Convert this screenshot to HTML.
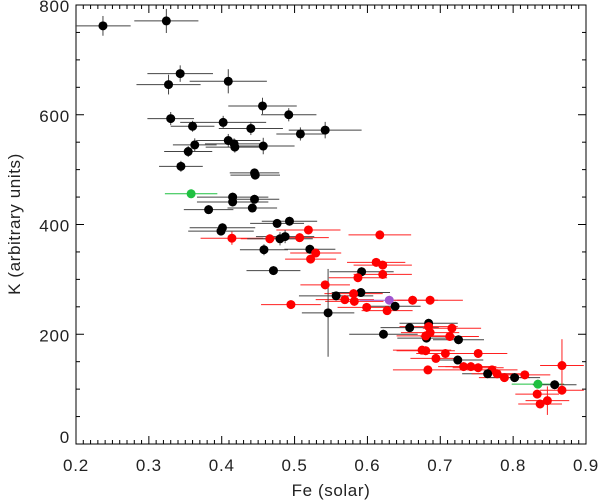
<!DOCTYPE html>
<html><head><meta charset="utf-8"><style>
html,body{margin:0;padding:0;background:#fff;}
svg{display:block;font-family:"Liberation Sans",sans-serif;}
</style></head><body>
<svg id="chart" width="600" height="502" viewBox="0 0 600 502">
<rect x="76" y="5" width="510" height="439" fill="none" stroke="#000" stroke-width="1"/>
<g id="ticks"></g>
<g id="labels" font-size="17" letter-spacing="0.8" fill="#222"></g>
<g id="marks"></g>
<text x="331" y="496" text-anchor="middle" font-size="17" letter-spacing="0.6" fill="#222">Fe (solar)</text>
<text transform="translate(20,224) rotate(-90)" text-anchor="middle" font-size="17" letter-spacing="0.6" fill="#222">K (arbitrary units)</text>
</svg>
<script>
const xTicks=[0.2,0.3,0.4,0.5,0.6,0.7,0.8,0.9];
const xTickLabels=["0.2","0.3","0.4","0.5","0.6","0.7","0.8","0.9"];
const yTicks=[0,200,400,600,800];
const yTickLabels=["0","200","400","600","800"];
const feVals=[0.237,0.324,0.343,0.327,0.409,0.456,0.492,0.330,0.360,0.402,0.440,0.508,0.542,0.363,0.354,0.409,0.417,0.418,0.457,0.344,0.445,0.446,0.358,0.415,0.415,0.445,0.382,0.442,0.476,0.493,0.401,0.399,0.519,0.414,0.466,0.507,0.480,0.487,0.458,0.471,0.495,
0.617,0.521,0.529,0.522,0.612,0.621,0.592,0.621,0.587,0.542,0.557,0.591,0.581,0.569,0.582,0.630,0.638,0.662,0.686,0.599,0.627,0.546,0.658,0.684,0.684,0.716,0.622,0.681,0.686,0.680,0.713,0.725,0.675,0.680,0.707,0.752,0.694,0.724,0.732,0.742,0.752,0.683,0.771,0.765,0.778,0.788,0.802,0.816,0.834,0.857,0.867,0.867,0.833,0.847,0.837];
const kVals=[762,771,675,655,661,616,600,593,579,586,575,565,572,545,533,553,547,541,543,506,494,490,456,450,441,446,427,430,402,406,394,388,390,375,374,376,374,378,354,316,254,
381,355,348,337,331,326,314,309,303,290,270,276,274,263,260,262,251,262,262,249,243,239,212,220,214,211,200,193,203,197,196,190,171,170,165,165,156,153,141,141,139,135,135,128,128,121,121,126,109,108,143,98,91,79,73];
const feErr=[0.038,0.044,0.045,0.044,0.053,0.047,0.038,0.032,0.030,0.059,0.044,0.033,0.050,0.030,0.033,0.044,0.040,0.040,0.043,0.030,0.034,0.034,0.036,0.049,0.049,0.034,0.034,0.034,0.037,0.038,0.045,0.045,0.044,0.043,0.040,0.040,0.045,0.040,0.033,0.037,0.041,
0.043,0.035,0.035,0.035,0.040,0.040,0.044,0.040,0.040,0.034,0.051,0.040,0.040,0.040,0.040,0.041,0.035,0.035,0.045,0.040,0.035,0.036,0.040,0.040,0.040,0.040,0.047,0.040,0.040,0.040,0.040,0.035,0.040,0.040,0.040,0.040,0.035,0.035,0.035,0.035,0.035,0.048,0.035,0.035,0.035,0.035,0.035,0.035,0.036,0.030,0.030,0.030,0.030,0.030,0.030];
const kErr=[18,22,15,18,22,15,12,12,10,12,12,12,15,12,10,12,10,10,15,10,8,8,8,8,8,8,8,8,8,8,8,8,8,12,8,8,12,12,10,8,8,
8,8,8,8,8,8,8,8,8,8,8,8,8,8,8,8,8,8,8,8,8,80,8,8,8,8,8,8,8,8,8,8,8,8,8,8,8,8,8,8,8,8,8,8,8,8,8,8,8,8,48,8,8,26,8];
const groups=[
'k','k','k','k','k','k','k','k','k','k','k','k','k','k','k','k','k','k','k','k','k','k','g','k','k','k','k','k','k','k','k','k',
'r','r','r','r','k','k','k','k','r',
'r','k','r','r','r','r','k','r','r','r','k','k','r','r','r','p','k','r','r','r','r','k','k','k','r','r','k','k','r','r','r','k',
'r','r','r','r','r','k','r','r','r','r','r','k','r','r','k','r','g','k','r','r','r','r','r'];
const L=76,R=586,T=5,B=444;
const x=v=>L+(v-0.2)/0.7*(R-L);
const y=v=>B-v/800*(B-T);
const NS="http://www.w3.org/2000/svg";
function mk(tag,attrs,parent){const e=document.createElementNS(NS,tag);for(const k in attrs)e.setAttribute(k,attrs[k]);parent.appendChild(e);return e;}
const tg=document.getElementById('ticks');
for(let i=0;i<=70;i++){const v=0.2+i*0.01;const len=(i%10===0)?8:4;const px=x(v);
 const a=mk('line',{x1:px,x2:px,y1:B,y2:B-len,stroke:'#000','stroke-width':1},tg);
 
 
 const b=mk('line',{x1:px,x2:px,y1:T,y2:T+len,stroke:'#000','stroke-width':1},tg);
 
 }
for(let i=0;i<=16;i++){const v=i*50;const len=(i%4===0)?8:4;const py=y(v);
 const a=mk('line',{x1:L,x2:L+len,y1:py,y2:py,stroke:'#000','stroke-width':1},tg);
 
 
 const b=mk('line',{x1:R,x2:R-len,y1:py,y2:py,stroke:'#000','stroke-width':1},tg);
 
 }
const lg=document.getElementById('labels');
xTicks.forEach((v,i)=>{const t=mk('text',{x:x(v),y:471,'text-anchor':'middle'},lg);t.textContent=xTickLabels[i];
 
 });
yTicks.forEach((v,i)=>{const off=(v===0)?-1:7;const t=mk('text',{x:70,y:y(v)+off,'text-anchor':'end'},lg);t.textContent=yTickLabels[i];
 
 });
const col={k:'#000',r:'#ff0000',g:'#1fc040',p:'#a055d0'};
const ecol={k:'#444',r:'#ff2020',g:'#1fc040',p:'#a055d0'};
const mg=document.getElementById('marks');
for(let i=0;i<feVals.length;i++){const g=groups[i]||'k';const cx=x(feVals[i]),cy=y(kVals[i]);
 const h=mk('line',{x1:x(feVals[i]-feErr[i]),x2:x(feVals[i]+feErr[i]),y1:cy,y2:cy,stroke:ecol[g],'stroke-width':1},mg);
 
 
 const v=mk('line',{x1:cx,x2:cx,y1:y(kVals[i]-kErr[i]),y2:y(kVals[i]+kErr[i]),stroke:ecol[g],'stroke-width':1},mg);
 
 }
for(let i=0;i<feVals.length;i++){const g=groups[i]||'k';
 const c=mk('circle',{cx:x(feVals[i]),cy:y(kVals[i]),r:4.5,fill:col[g]},mg);
 
 }
</script>
</body></html>
